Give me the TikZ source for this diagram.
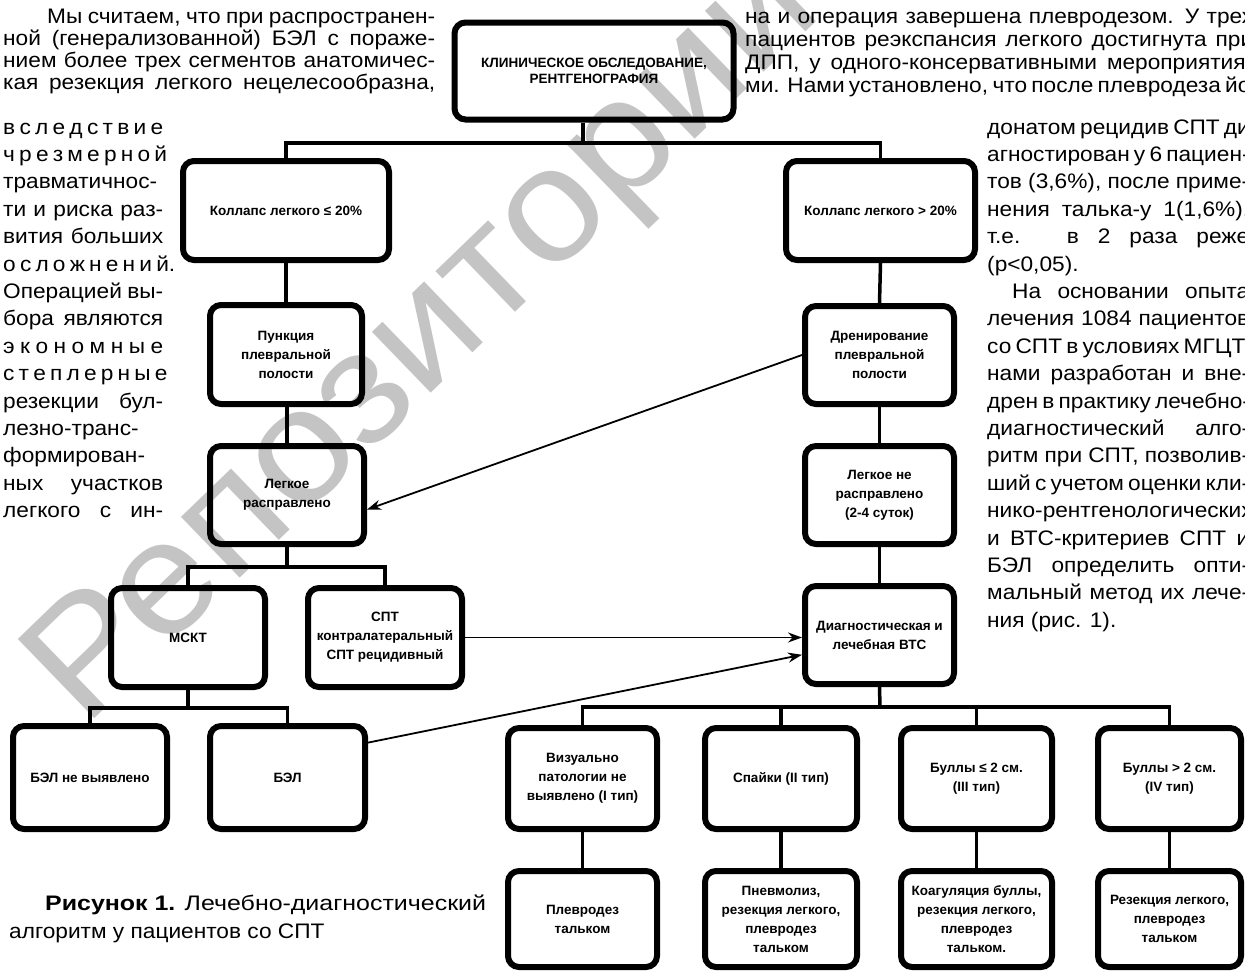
\documentclass[tikz,border=0pt]{standalone}
\usepackage{fontspec}
\usepackage{graphicx}
\setmainfont{Liberation Sans}[FakeStretch=1.08]
\newfontfamily\boxfont{Liberation Sans}
\usetikzlibrary{arrows.meta,calc}
\definecolor{wm}{RGB}{196,196,196}
\tikzset{
  bx/.style={draw=black, line width=6pt, rounded corners=11pt, inner sep=1pt, align=center,
             font=\boxfont\bfseries\fontsize{13.5}{19}\selectfont},
  conn/.style={line width=3.5pt},
  arr/.style={line width=1.8pt, -{Stealth[length=14pt,width=10pt]}},
  body/.style={anchor=base west, inner sep=0pt, font=\fontsize{21}{27}\selectfont},
  wmark/.style={text=wm, inner sep=0pt, font=\fontsize{160}{160}\selectfont},
}
\newcommand\bx[6]{\node[bx, minimum width={#4-#2-6}, minimum height={#5-#3-6}] (#1) at ({(#2+#4)/2},{(#3+#5)/2}) {#6};}
\newcommand\jl[5]{\node[body] (#1) at (#2,#3) {\makebox[#4pt][s]{#5}};}
\newcommand\nl[4]{\node[body] (#1) at (#2,#3) {#4};}
\begin{document}
\begin{tikzpicture}[x=1pt,y=-1pt]
\useasboundingbox (0,0) rectangle (1245,972);
\clip (0,0) rectangle (1245,972);
\fill[white] (0,0) rectangle (1245,972);

% watermark
\node[wmark, rotate=44] (wm) at (425,340) {Репозиторий};

% ---- left column text
\jl{L1}{47}{23}{388}{Мы считаем, что при распространен-}
\jl{L2}{3}{45}{432}{ной (генерализованной) БЭЛ с пораже-}
\jl{L3}{3}{67.5}{432}{нием более трех сегментов анатомичес-}
\jl{L4}{3}{89.5}{432}{кая резекция легкого нецелесообразна,}
\jl{L5}{3}{134}{160}{в с л е д с т в и е}
\jl{L6}{3}{161.4}{160}{ч р е з м е р н о й}
\jl{L7}{3}{188.8}{160}{травматичнос-}
\jl{L8}{3}{216.2}{160}{ти и риска раз-}
\jl{L9}{3}{243.6}{160}{вития больших}
\jl{L10}{3}{271}{160}{о с л о ж н е н и й.}
\jl{L11}{3}{298.4}{160}{Операцией вы-}
\jl{L12}{3}{325.8}{160}{бора являются}
\jl{L13}{3}{353.2}{160}{э к о н о м н ы е}
\jl{L14}{3}{380.6}{160}{с т е п л е р н ы е}
\jl{L15}{3}{408}{160}{резекции бул-}
\jl{L16}{3}{435.4}{160}{лезно-транс-}
\jl{L17}{3}{462.8}{160}{формирован-}
\jl{L18}{3}{490.2}{160}{ных участков}
\jl{L19}{3}{517.6}{160}{легкого с ин-}

% ---- right column text
\jl{R1}{745}{23}{508}{на и операция завершена плевродезом. У трех}
\jl{R2}{745}{46}{508}{пациентов реэкспансия легкого достигнута при}
\jl{R3}{745}{69}{508}{ДПП, у одного-консервативными мероприятия-}
\jl{R4}{745}{92}{508}{ми. Нами установлено, что после плевродеза йо-}
\jl{R5}{987}{134}{262}{донатом рецидив СПТ ди-}
\jl{R6}{987}{161.4}{262}{агностирован у 6 пациен-}
\jl{R7}{987}{188.8}{262}{тов (3,6\%), после приме-}
\jl{R8}{987}{216.2}{262}{нения талька-у 1(1,6\%),}
\jl{R9}{987}{243.6}{262}{т.е. в 2 раза реже}
\nl{R10}{987}{271}{(р<0,05).}
\jl{R11}{1012}{298.4}{237}{На основании опыта}
\jl{R12}{987}{325.8}{262}{лечения 1084 пациентов}
\jl{R13}{987}{353.2}{262}{со СПТ в условиях МГЦТХ}
\jl{R14}{987}{380.6}{262}{нами разработан и вне-}
\jl{R15}{987}{408}{262}{дрен в практику лечебно-}
\jl{R16}{987}{435.4}{262}{диагностический алго-}
\jl{R17}{987}{462.8}{262}{ритм при СПТ, позволив-}
\jl{R18}{987}{490.2}{262}{ший с учетом оценки кли-}
\jl{R19}{987}{517.6}{262}{нико-рентгенологических}
\jl{R20}{987}{545}{262}{и ВТС-критериев СПТ и}
\jl{R21}{987}{572.4}{262}{БЭЛ определить опти-}
\jl{R22}{987}{599.8}{262}{мальный метод их лече-}
\nl{R23}{987}{627.2}{ния (рис. 1).}

% ---- caption
\nl{C1}{45}{910}{\scalebox{1.1}[1]{\textbf{Рисунок 1.} Лечебно-диагностический}}
\nl{C2}{9}{938}{алгоритм у пациентов со СПТ}

% ---- boxes
\node[bx, font=\boxfont\bfseries\fontsize{13.5}{16}\selectfont, minimum width=279, minimum height=97] (top) at (594,71) {КЛИНИЧЕСКОЕ ОБСЛЕДОВАНИЕ,\\РЕНТГЕНОГРАФИЯ};
\bx{k1}{180}{158}{392}{263}{Коллапс легкого ≤ 20\%}
\bx{k2}{783}{158}{978}{263}{Коллапс легкого > 20\%}
\bx{p1}{207}{302}{365}{407}{Пункция\\плевральной\\полости}
\bx{d2}{802}{303}{957}{407}{Дренирование\\плевральной\\полости}
\bx{l1}{207}{443}{367}{547}{Легкое\\расправлено}
\bx{l2}{802}{443}{957}{547}{Легкое не\\расправлено\\(2-4 суток)}
\bx{m}{108}{585}{268}{690}{МСКТ}
\bx{s}{305}{585}{465}{690}{СПТ\\контралатеральный\\СПТ рецидивный}
\bx{v}{802}{583}{957}{687}{Диагностическая и\\лечебная ВТС}
\bx{b0}{10}{723}{170}{832}{БЭЛ не выявлено}
\bx{b1}{207}{723}{368}{832}{БЭЛ}
\bx{r1}{505}{725}{660}{832}{Визуально\\патологии не\\выявлено (I тип)}
\bx{r2}{702}{725}{860}{832}{Спайки (II тип)}
\bx{r3}{898}{725}{1055}{832}{Буллы ≤ 2 см.\\(III тип)}
\bx{r4}{1095}{725}{1244}{832}{Буллы > 2 см.\\(IV тип)}
\bx{t1}{505}{868}{660}{970}{Плевродез\\тальком}
\bx{t2}{702}{868}{860}{970}{Пневмолиз,\\резекция легкого,\\плевродез\\тальком}
\bx{t3}{898}{868}{1055}{970}{Коагуляция буллы,\\резекция легкого,\\плевродез\\тальком.}
\bx{t4}{1095}{868}{1244}{970}{Резекция легкого,\\плевродез\\тальком}

% ---- junctions
\coordinate (jt) at (583,143);
\coordinate (jl) at (287,567);
\coordinate (jm) at (188,708);
\coordinate (jv) at (880,707);

% ---- connectors
\draw[conn] (top.south -| jt) -- (jt);
\draw[conn] (k1.north) |- (jt) -| (k2.north);
\draw[conn] (k1.south) -- (p1.north);
\draw[conn] (p1.south) -- (l1.south |- p1.south) -- (l1.north);
\draw[conn] (k2.south) -- (d2.north);
\draw[conn] (d2.south) -- (l2.north);
\draw[conn] (l2.south) -- (v.north);
\draw[conn] (l1.south) -- (jl);
\draw[conn] (m.north) |- (jl) -| (s.north);
\draw[conn] (m.south) -- (jm);
\draw[conn] (b0.north) |- (jm) -| (b1.north);
\draw[conn] (v.south) -- (jv);
\draw[conn] (r1.north) |- (jv) -| (r4.north);
\draw[conn] (r2.north) -- (r2.north |- jv);
\draw[conn] (r3.north) -- (r3.north |- jv);
\draw[conn] (r1.south) -- (t1.north);
\draw[conn] (r2.south) -- (t2.north);
\draw[conn] (r3.south) -- (t3.north);
\draw[conn] (r4.south) -- (t4.north);

% ---- arrows
\draw[arr] (d2.west) -- ($(l1.south east)!0.36!(l1.north east)$);
\draw[arr] (s.east) -- (s.east -| v.west);
\draw[arr] ($(b1.north east)!0.18!(b1.south east)$) -- ($(v.north west)!0.69!(v.south west)$);
\end{tikzpicture}
\end{document}
